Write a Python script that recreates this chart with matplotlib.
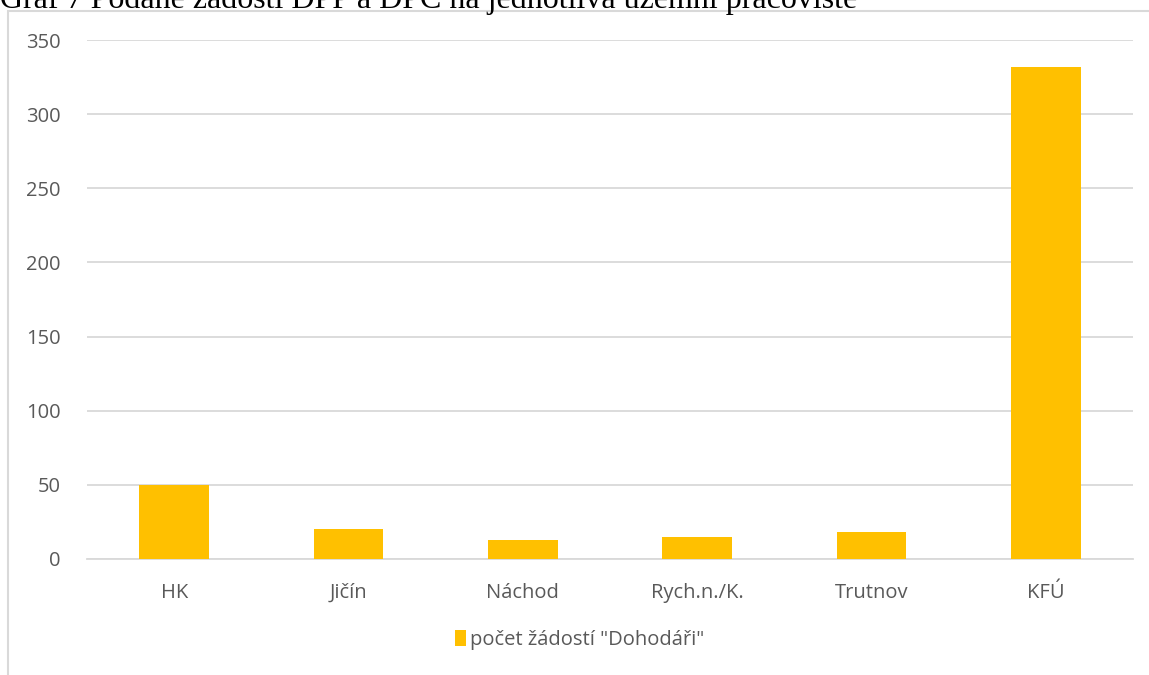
import matplotlib.pyplot as plt
from matplotlib.patches import Rectangle

# data
kategorie = ['HK', 'Jičín', 'Náchod', 'Rych.n./K.', 'Trutnov', 'KFÚ']
pocet = [50, 20, 13, 15, 18, 332]
y_ticks = [0, 50, 100, 150, 200, 250, 300, 350]
nazev = 'Graf 7 Podané žádosti DPP a DPČ na jednotlivá územní pracoviště'
legenda = 'počet žádostí "Dohodáři"'

W, H = 1149, 675
fig = plt.figure(figsize=(W / 100, H / 100), dpi=100)

# chart frame (light gray, cut off at right/bottom)
fig.patches.append(Rectangle((8 / W, -0.1), 1.2, (H - 11) / H + 0.1,
                             transform=fig.transFigure, fill=False,
                             edgecolor='#d9d9d9', linewidth=1.5))

# title, partly cut at the top
fig.text(0 / W, 1 - 8 / H, nazev, family='Liberation Serif', fontsize=23,
         color='black', ha='left', va='baseline')

ax = fig.add_axes([87 / W, 1 - 559 / H, (1133 - 87) / W, (559 - 40) / H])
x = range(len(kategorie))
ax.bar(x, pocet, width=0.4, color='#ffc000', label=legenda, zorder=3)
ax.set_xlim(-0.5, len(kategorie) - 0.5)
ax.set_ylim(0, 350)
ax.set_yticks(y_ticks)
ax.set_xticks(list(x))
ax.set_xticklabels(kategorie)
ax.grid(axis='y', color='#d9d9d9', linewidth=1.3, zorder=0)
for s in ['top', 'right', 'left']:
    ax.spines[s].set_visible(False)
ax.spines['bottom'].set_color('#d9d9d9')
ax.spines['bottom'].set_linewidth(1.3)
ax.tick_params(length=0, labelsize=14.5, labelcolor='#595959')
ax.tick_params(axis='x', pad=17)
ax.tick_params(axis='y', pad=19)
for lab in ax.get_xticklabels() + ax.get_yticklabels():
    lab.set_family('Open Sans')

fig.legend(loc='center', bbox_to_anchor=(580 / W, 1 - 640 / H), frameon=False,
           prop={'family': 'Open Sans', 'size': 14.5}, labelcolor='#595959',
           handlelength=0.55, handleheight=0.85, handletextpad=0.2)

fig.savefig('out.png', dpi=100)
